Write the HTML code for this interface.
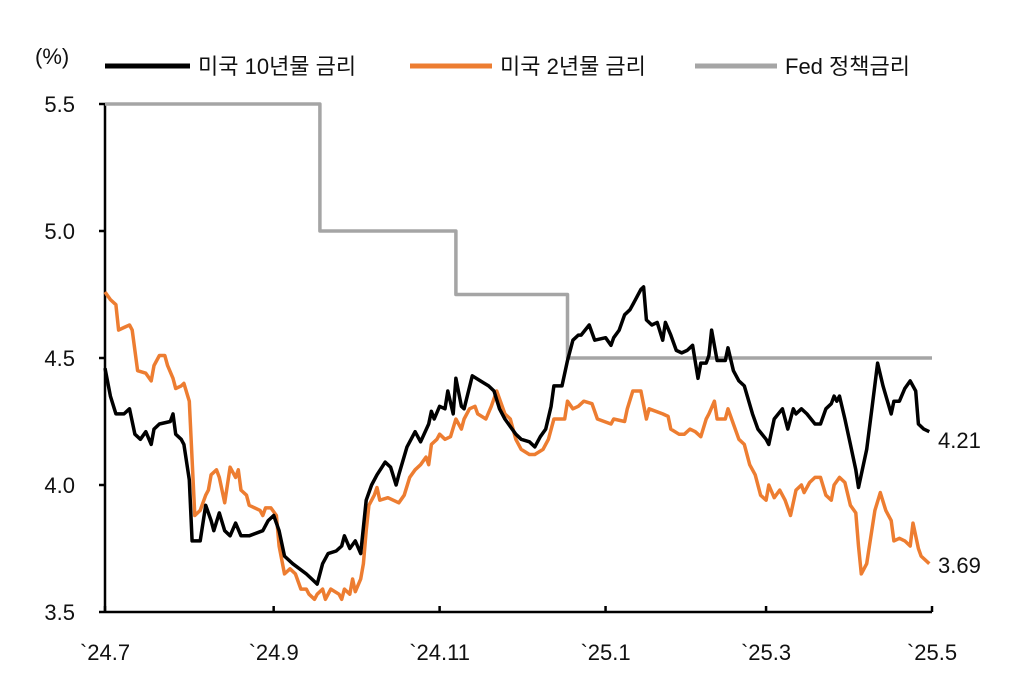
<!DOCTYPE html>
<html><head><meta charset="utf-8"><style>
body{margin:0;background:#fff}
svg text{font-family:"Liberation Sans","Noto Sans CJK KR",sans-serif;fill:#111}
</style></head><body>
<svg width="1017" height="693" viewBox="0 0 1017 693" xmlns="http://www.w3.org/2000/svg">
<text x="35" y="64" font-size="22">(%)</text>
<g>
<g><line x1="105" y1="66" x2="190" y2="66" stroke="#000" stroke-width="5"/><text x="198" y="74" font-size="22">미국 10년물 금리</text></g>
<g><line x1="410" y1="66" x2="492" y2="66" stroke="#ED7D31" stroke-width="5"/><text x="500" y="74" font-size="22">미국 2년물 금리</text></g>
<g><line x1="695" y1="66" x2="777" y2="66" stroke="#A5A5A5" stroke-width="5"/><text x="785" y="74" font-size="22">Fed 정책금리</text></g>
</g>
<g id="axes"></g>
<g id="series"></g>
<text x="938" y="448" font-size="22">4.21</text>
<text x="938" y="573" font-size="22">3.69</text>
</svg>
<script>
const yTicks=[3.5,4.0,4.5,5.0,5.5];
const yTickLabels=["3.5","4.0","4.5","5.0","5.5"];
const xTickDays=[0,62,123,184,243,304];
const xTickLabels=["`24.7","`24.9","`24.11","`25.1","`25.3","`25.5"];
const days10y=[0,2,4,7,9,11,13,15,17,18,20,24,25,26,28,29,31,32,35,37,39,40,42,44,46,48,50,53,58,60,62,64,66,69,74,76,78,80,82,85,87,88,90,92,94,96,98,100,103,105,107,108,111,114,116,119,120,121,123,125,126,128,129,131,132,135,138,141,143,145,147,151,153,156,158,160,162,164,165,168,170,172,174,175,178,180,184,186,187,189,191,193,195,197,198,199,201,203,205,206,208,210,212,214,216,218,219,221,222,223,225,228,229,231,233,235,238,240,243,244,246,249,251,253,254,256,258,261,263,265,267,268,269,270,272,274,276,277,280,282,284,286,289,290,292,294,296,298,299,301,303];
const rate10y=[4.46,4.35,4.28,4.28,4.30,4.20,4.18,4.21,4.16,4.22,4.24,4.25,4.28,4.20,4.18,4.16,4.02,3.78,3.78,3.92,3.86,3.82,3.89,3.82,3.80,3.85,3.80,3.80,3.82,3.86,3.88,3.82,3.72,3.69,3.65,3.63,3.61,3.69,3.73,3.74,3.76,3.80,3.75,3.78,3.73,3.94,4.00,4.04,4.09,4.07,4.00,4.04,4.15,4.21,4.17,4.24,4.29,4.26,4.31,4.30,4.37,4.28,4.42,4.31,4.30,4.43,4.41,4.39,4.37,4.30,4.26,4.20,4.18,4.17,4.15,4.19,4.22,4.31,4.39,4.39,4.49,4.57,4.59,4.59,4.63,4.57,4.58,4.55,4.58,4.61,4.67,4.69,4.73,4.77,4.78,4.65,4.63,4.64,4.57,4.64,4.59,4.53,4.52,4.53,4.55,4.42,4.48,4.48,4.51,4.61,4.49,4.49,4.54,4.45,4.41,4.39,4.28,4.22,4.18,4.16,4.26,4.30,4.22,4.30,4.28,4.30,4.28,4.24,4.24,4.30,4.32,4.35,4.33,4.35,4.26,4.16,4.06,3.99,4.14,4.31,4.48,4.39,4.28,4.33,4.33,4.38,4.41,4.37,4.24,4.22,4.21];
const days2y=[0,2,4,5,7,9,10,12,15,17,18,20,22,23,25,26,28,29,31,32,33,35,37,38,39,41,42,44,46,48,49,50,52,53,57,58,59,61,63,64,66,68,70,72,74,75,77,78,80,81,83,86,87,88,90,91,92,94,95,96,97,99,100,101,104,108,110,112,114,116,118,119,120,122,123,125,127,129,131,132,134,136,137,140,142,144,147,149,151,153,156,158,161,163,165,169,170,172,174,176,179,181,186,187,191,192,194,197,199,200,205,207,208,211,213,215,217,219,221,222,224,225,228,229,231,233,235,237,239,241,243,244,246,248,250,252,254,256,257,259,261,263,265,267,268,270,272,274,276,277,278,280,281,283,285,287,289,290,292,294,296,297,299,300,303];
const rate2y=[4.76,4.73,4.71,4.61,4.62,4.63,4.61,4.45,4.44,4.41,4.47,4.51,4.51,4.47,4.42,4.38,4.39,4.40,4.33,4.10,3.88,3.90,3.96,3.98,4.04,4.06,4.03,3.93,4.07,4.03,4.06,3.98,3.96,3.92,3.90,3.88,3.91,3.91,3.88,3.76,3.65,3.67,3.65,3.59,3.59,3.57,3.55,3.57,3.59,3.55,3.59,3.57,3.55,3.59,3.57,3.63,3.58,3.63,3.69,3.82,3.92,3.96,3.99,3.94,3.95,3.93,3.96,4.03,4.06,4.08,4.11,4.08,4.16,4.18,4.20,4.18,4.19,4.26,4.22,4.26,4.30,4.31,4.28,4.26,4.31,4.37,4.28,4.26,4.18,4.14,4.12,4.12,4.14,4.18,4.26,4.26,4.33,4.30,4.31,4.33,4.32,4.26,4.24,4.26,4.25,4.30,4.37,4.37,4.26,4.30,4.28,4.27,4.22,4.20,4.20,4.22,4.21,4.19,4.26,4.28,4.33,4.26,4.26,4.30,4.24,4.18,4.16,4.08,4.04,3.96,3.94,4.00,3.95,3.98,3.94,3.88,3.98,4.00,3.97,4.01,4.03,4.03,3.96,3.94,4.00,4.03,4.01,3.92,3.89,3.76,3.65,3.69,3.76,3.90,3.97,3.90,3.86,3.78,3.79,3.78,3.76,3.85,3.75,3.72,3.69];
const fedDays=[0,79,79,129,129,170,170,304];
const fedRate=[5.5,5.5,5.0,5.0,4.75,4.75,4.5,4.5];

const NS="http://www.w3.org/2000/svg";
const X0=105,X1=932,Y0=612,Y1=104,DMAX=304,VMIN=3.5,VMAX=5.5;
const xs=d=>X0+(d/DMAX)*(X1-X0);
const ys=v=>Y0-(v-VMIN)/(VMAX-VMIN)*(Y0-Y1);
const axes=document.getElementById('axes');
const series=document.getElementById('series');
function mk(tag,attrs,parent){const e=document.createElementNS(NS,tag);for(const k in attrs)e.setAttribute(k,attrs[k]);parent.appendChild(e);return e;}

const ya=mk('line',{x1:X0,y1:Y1,x2:X0,y2:Y0,stroke:'#000','stroke-width':2.5},axes);


const xa=mk('line',{x1:X0,y1:Y0,x2:X1,y2:Y0,stroke:'#000','stroke-width':2.5},axes);


yTicks.forEach((v,i)=>{
  const t=mk('line',{x1:X0-6,y1:ys(v),x2:X0,y2:ys(v),stroke:'#000','stroke-width':2.5},axes);
  
  
  const l=mk('text',{x:75,y:ys(v)+8,'font-size':22,'text-anchor':'end'},axes);
  l.textContent=yTickLabels[i];
  
  
});
xTickDays.forEach((d,i)=>{
  const t=mk('line',{x1:xs(d),y1:Y0-6,x2:xs(d),y2:Y0,stroke:'#000','stroke-width':2.5},axes);
  
  
  const l=mk('text',{x:xs(d),y:660,'font-size':22,'text-anchor':'middle'},axes);
  l.textContent=xTickLabels[i];
  
  
});
function line(days,vals,color,w,name){
  const p=days.map((d,i)=>(i?'L':'M')+xs(d).toFixed(1)+','+ys(vals[i]).toFixed(1)).join('');
  const e=mk('path',{d:p,fill:'none',stroke:color,'stroke-width':w,'stroke-linejoin':'round'},series);
  
  
}
line(fedDays,fedRate,'#A5A5A5',3.5,'fed-rate-line');
line(days2y,rate2y,'#ED7D31',3.5,'us-2y-line');
line(days10y,rate10y,'#000',3.5,'us-10y-line');
</script>
</body></html>
